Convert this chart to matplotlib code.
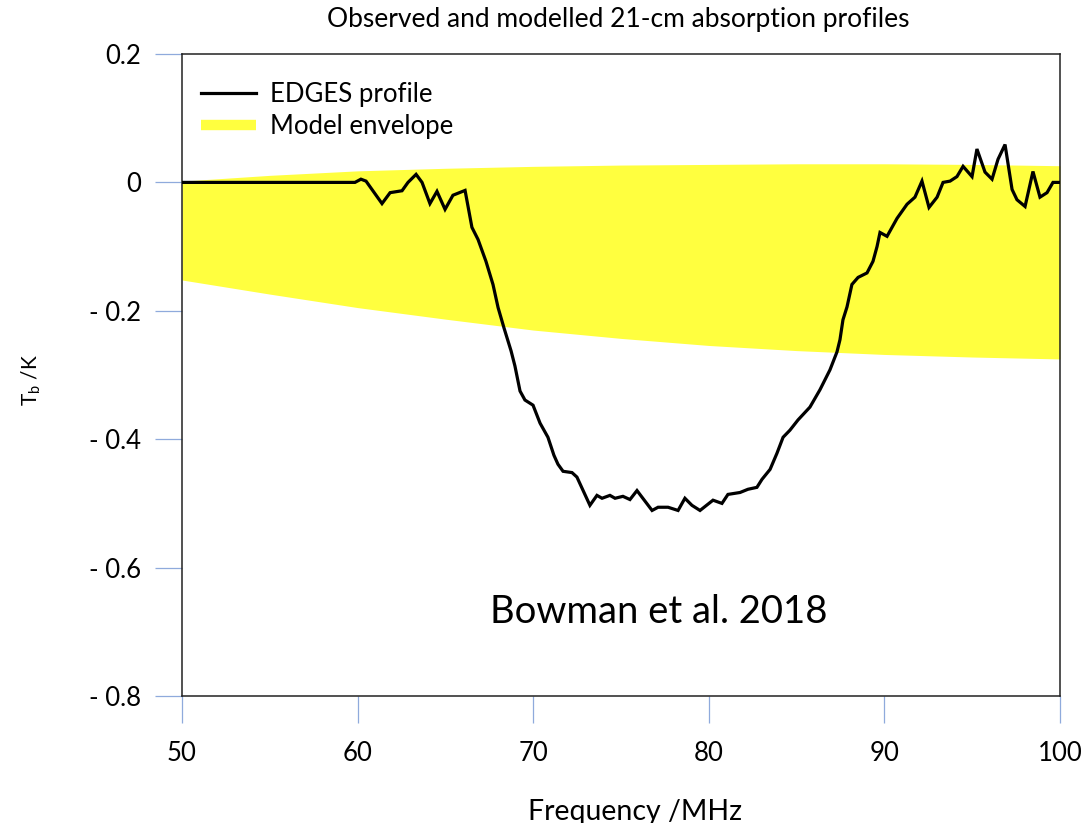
import matplotlib
matplotlib.use("Agg")
import matplotlib.pyplot as plt
from matplotlib.lines import Line2D
import numpy as np

plt.rcParams['font.family'] = ['Lato', 'DejaVu Sans']
plt.rcParams['mathtext.fontset'] = 'custom'
plt.rcParams['mathtext.rm'] = 'Lato'

# EDGES profile (frequency MHz, brightness temperature K)
edges_freq = [50.00, 59.85, 60.19, 60.48, 61.39, 61.85, 62.53, 62.87, 63.33, 63.67,
              64.12, 64.52, 64.98, 65.43, 66.12, 66.29, 66.51, 66.86, 67.31, 67.71,
              68.00, 68.34, 68.74, 68.96, 69.25, 69.53, 69.99, 70.39, 70.84, 71.18,
              71.41, 71.70, 72.21, 72.49, 73.23, 73.63, 73.92, 74.37, 74.66, 75.11,
              75.51, 75.91, 76.77, 77.11, 77.68, 78.25, 78.64, 79.04, 79.50, 80.24,
              80.75, 81.09, 81.78, 82.23, 82.74, 83.03, 83.49, 83.88, 84.23, 84.62,
              85.08, 85.76, 86.33, 86.90, 87.30, 87.47, 87.64, 87.87, 88.15, 88.50,
              89.01, 89.35, 89.58, 89.75, 90.15, 90.72, 91.29, 91.74, 92.14, 92.54,
              93.00, 93.34, 93.74, 94.13, 94.48, 94.99, 95.27, 95.73, 96.13, 96.47,
              96.87, 97.27, 97.55, 98.01, 98.46, 98.86, 99.26, 99.60, 100.00]
edges_temp = [0.000, 0.000, 0.005, 0.002, -0.033, -0.016, -0.013, 0.000, 0.0125, 0.000,
              -0.033, -0.014, -0.042, -0.020, -0.0125, -0.0375, -0.070, -0.089, -0.123, -0.159,
              -0.195, -0.227, -0.2625, -0.286, -0.325, -0.339, -0.347, -0.375, -0.397, -0.425,
              -0.439, -0.450, -0.452, -0.459, -0.503, -0.4875, -0.492, -0.4875, -0.492, -0.489,
              -0.494, -0.480, -0.511, -0.506, -0.506, -0.511, -0.492, -0.503, -0.511, -0.495,
              -0.500, -0.486, -0.483, -0.478, -0.475, -0.4625, -0.447, -0.422, -0.397, -0.386,
              -0.370, -0.350, -0.323, -0.292, -0.264, -0.245, -0.214, -0.194, -0.159, -0.148,
              -0.141, -0.123, -0.100, -0.078, -0.084, -0.056, -0.034, -0.023, 0.002, -0.039,
              -0.023, 0.000, 0.002, 0.009, 0.025, 0.009, 0.052, 0.016, 0.005, 0.036,
              0.059, -0.011, -0.027, -0.0375, 0.017, -0.023, -0.016, 0.000, 0.000]

# Model envelope
env_freq = [50, 55, 60, 65, 70, 75, 80, 85, 90, 95, 100]
env_upper = [0.002, 0.011, 0.018, 0.022, 0.025, 0.027, 0.028, 0.029, 0.029, 0.028, 0.026]
env_lower = [-0.152, -0.174, -0.195, -0.213, -0.230, -0.243, -0.254, -0.262, -0.268, -0.272, -0.275]

xtick_vals = [50, 60, 70, 80, 90, 100]
xtick_labels = ["50", "60", "70", "80", "90", "100"]
ytick_vals = [0.2, 0, -0.2, -0.4, -0.6, -0.8]
ytick_labels = ["0.2", "0", "- 0.2", "- 0.4", "- 0.6", "- 0.8"]

W, H = 1090, 823
fig = plt.figure(figsize=(W / 100, H / 100), dpi=100)
ax = fig.add_axes([182 / W, 1 - 696 / H, (1060 - 182) / W, (696 - 54) / H])

yellow = '#ffff3f'
ax.fill_between(env_freq, env_lower, env_upper, color=yellow, linewidth=0, zorder=1)
ax.plot(edges_freq, edges_temp, color='black', lw=2.3, zorder=3, solid_joinstyle='miter')

ax.set_xlim(50, 100)
ax.set_ylim(-0.8, 0.2)
ax.set_xticks(xtick_vals)
ax.set_xticklabels(xtick_labels)
ax.set_yticks(ytick_vals)
ax.set_yticklabels(ytick_labels)

tick_col = '#8faadc'
ax.tick_params(axis='both', direction='out', length=19.5, width=0.9, color=tick_col,
               labelsize=18.5, labelcolor='black')
ax.tick_params(axis='y', pad=10)
ax.tick_params(axis='x', pad=13)
for s in ax.spines.values():
    s.set_color('#222222')
    s.set_linewidth(1.1)

ax.set_xlabel('Frequency /MHz', fontsize=20.5)
ax.xaxis.set_label_coords((635 - 182) / 878, (696 - 799) / 642)
ax.set_ylabel(r'T$_\mathregular{b}$ /K', fontsize=15)
ax.yaxis.set_label_coords((43 - 182) / 878, (696 - 380) / 642)

fig.text(618 / W, 1 - 20 / H, 'Observed and modelled 21-cm absorption profiles',
         ha='center', va='center', fontsize=19)

ax.text((659 - 182) / 878, (696 - 612) / 642, 'Bowman et al. 2018', transform=ax.transAxes,
        ha='center', va='center', fontsize=27.5)

handles = [Line2D([], [], color='black', lw=2.3),
           Line2D([], [], color=yellow, lw=7.5, solid_capstyle='butt')]
ax.legend(handles, ['EDGES profile', 'Model envelope'], loc='upper left',
          bbox_to_anchor=((201 - 182) / 878, (696 - 82) / 642), frameon=False,
          fontsize=18.5, handlelength=2.15, handletextpad=0.55, labelspacing=0.27,
          borderaxespad=0, borderpad=0)

fig.savefig('out.png', dpi=100)
